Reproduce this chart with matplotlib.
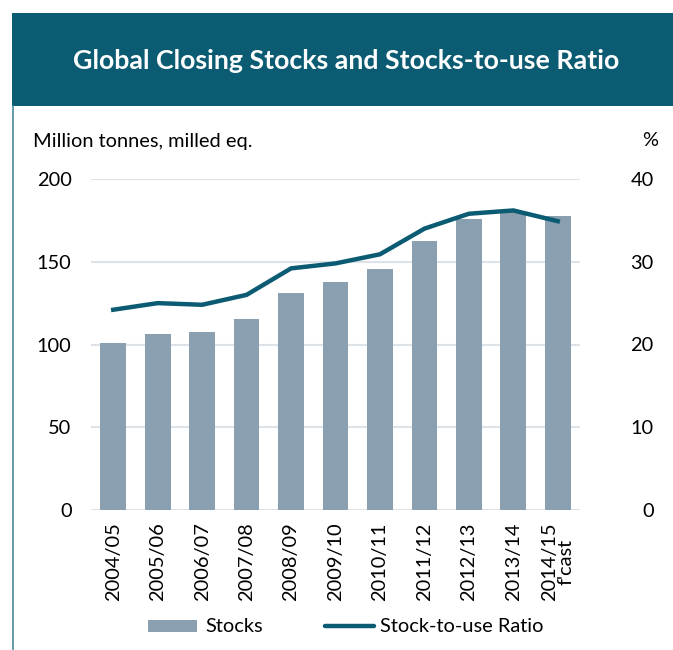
import matplotlib
matplotlib.use('Agg')
import matplotlib.pyplot as plt
from matplotlib.patches import Rectangle
from matplotlib.lines import Line2D
import numpy as np

plt.rcParams['font.family'] = ['Lato', 'DejaVu Sans']

seasons = ['2004/05', '2005/06', '2006/07', '2007/08', '2008/09', '2009/10',
           '2010/11', '2011/12', '2012/13', '2013/14', '2014/15\nf\'cast']
stocks = [101, 106.5, 107.5, 115.5, 131, 138, 145.5, 162.5, 176, 180, 177.5]
ratio = [24.2, 25.0, 24.8, 26.0, 29.2, 29.8, 30.9, 34.0, 35.8, 36.2, 34.9]
left_ticks = [0, 50, 100, 150, 200]
right_ticks = [0, 10, 20, 30, 40]

C_BAND = '#0b5c73'
C_BAR = '#8aa0b0'
C_LINE = '#0b5c73'
C_GRID = '#dde3e8'
FS = 14.4

W, H = 673, 650
def fx(px):
    return px / W
def fy(py):
    return 1 - py / H

fig = plt.figure(figsize=(6.73, 6.5), dpi=100)
fig.patch.set_facecolor('white')

# title band + left border
fig.patches.append(Rectangle((fx(12), fy(106)), 1, 93/H, transform=fig.transFigure,
                             facecolor=C_BAND, edgecolor='none', zorder=0))
fig.lines.append(Line2D([fx(12.5), fx(12.5)], [0, fy(106)], transform=fig.transFigure,
                        color='#4a8aa0', lw=1.2))
fig.text(fx(346), fy(61), 'Global Closing Stocks and Stocks-to-use Ratio',
         ha='center', va='center', color='white', fontsize=19.3, fontweight='bold')

ax = fig.add_axes([fx(91), fy(510), 489/W, 331/H])
x = np.arange(len(seasons))
ax.bar(x, stocks, width=0.58, color=C_BAR, zorder=2)
ax.set_xlim(-0.5, len(seasons)-0.5)
ax.set_ylim(0, 200)
ax.set_yticks(left_ticks)
ax.grid(axis='y', color=C_GRID, lw=1.5, zorder=0)
for s in ax.spines.values():
    s.set_visible(False)
ax.tick_params(axis='both', length=0, labelsize=FS)
ax.tick_params(axis='y', pad=14)
ax.set_xticks(x)
ax.set_xticklabels(seasons, rotation=90, fontsize=FS, linespacing=0.95)
ax.tick_params(axis='x', pad=9)

ax2 = ax.twinx()
ax2.plot(x, ratio, color=C_LINE, lw=3.2, zorder=3)
ax2.set_ylim(0, 40)
ax2.set_yticks(right_ticks)
for s in ax2.spines.values():
    s.set_visible(False)
ax2.tick_params(axis='y', length=0, labelsize=FS, pad=53)
for lbl in ax2.get_yticklabels():
    lbl.set_horizontalalignment('right')

fig.text(fx(33), fy(141), 'Million tonnes, milled eq.', ha='left', va='center', fontsize=FS)
fig.text(fx(650), fy(140), '%', ha='center', va='center', fontsize=FS)

# legend, drawn by hand
fig.patches.append(Rectangle((fx(148), fy(632)), 49/W, 12/H, transform=fig.transFigure,
                             facecolor=C_BAR, edgecolor='none'))
fig.text(fx(205), fy(626), 'Stocks', ha='left', va='center', fontsize=FS)
fig.lines.append(Line2D([fx(325), fx(374)], [fy(626), fy(626)], transform=fig.transFigure,
                        color=C_LINE, lw=3.2, solid_capstyle='round'))
fig.text(fx(380), fy(626), 'Stock-to-use Ratio', ha='left', va='center', fontsize=FS)

fig.savefig('out.png', dpi=100, facecolor='white')
